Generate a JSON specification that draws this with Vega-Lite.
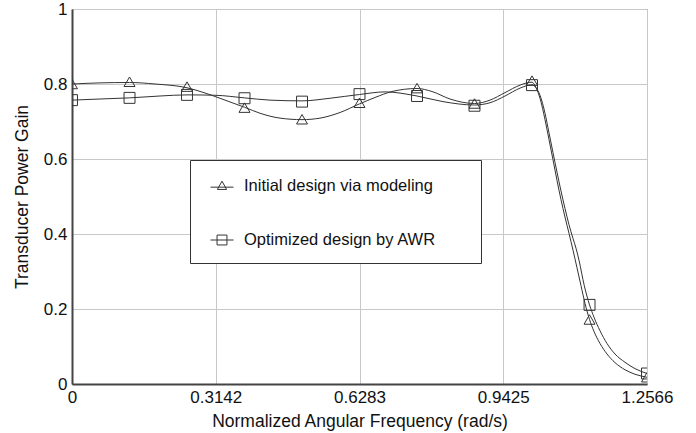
{
  "$schema": "https://vega.github.io/schema/vega-lite/v6.json",
  "width": 575,
  "height": 375,
  "autosize": "none",
  "padding": {"left": 72, "top": 9, "right": 49, "bottom": 49},
  "background": "white",
  "config": {
    "font": "Liberation Sans",
    "view": {"stroke": "#555", "strokeWidth": 1},
    "axis": {
      "labelFont": "Liberation Sans",
      "labelFontSize": 17,
      "labelColor": "#111",
      "titleFont": "Liberation Sans",
      "titleFontSize": 17.5,
      "titleFontWeight": "normal",
      "titleColor": "#111",
      "ticks": false,
      "gridColor": "#c8c8c8",
      "gridWidth": 1,
      "domainColor": "#444",
      "domainWidth": 2,
      "labelPadding": 5
    }
  },
  "datasets": {
    "curve": [
      {"series": "Initial design via modeling", "x": 0.0, "gain": 0.800},
      {"series": "Initial design via modeling", "x": 0.0612, "gain": 0.803},
      {"series": "Initial design via modeling", "x": 0.1257, "gain": 0.804},
      {"series": "Initial design via modeling", "x": 0.1814, "gain": 0.800},
      {"series": "Initial design via modeling", "x": 0.2513, "gain": 0.790},
      {"series": "Initial design via modeling", "x": 0.2907, "gain": 0.776},
      {"series": "Initial design via modeling", "x": 0.3234, "gain": 0.762},
      {"series": "Initial design via modeling", "x": 0.3770, "gain": 0.738},
      {"series": "Initial design via modeling", "x": 0.4109, "gain": 0.722},
      {"series": "Initial design via modeling", "x": 0.4546, "gain": 0.709},
      {"series": "Initial design via modeling", "x": 0.5027, "gain": 0.705},
      {"series": "Initial design via modeling", "x": 0.5420, "gain": 0.709},
      {"series": "Initial design via modeling", "x": 0.5857, "gain": 0.724},
      {"series": "Initial design via modeling", "x": 0.6283, "gain": 0.747},
      {"series": "Initial design via modeling", "x": 0.6622, "gain": 0.764},
      {"series": "Initial design via modeling", "x": 0.6993, "gain": 0.780},
      {"series": "Initial design via modeling", "x": 0.7540, "gain": 0.788},
      {"series": "Initial design via modeling", "x": 0.7867, "gain": 0.780},
      {"series": "Initial design via modeling", "x": 0.8261, "gain": 0.760},
      {"series": "Initial design via modeling", "x": 0.8796, "gain": 0.748},
      {"series": "Initial design via modeling", "x": 0.9135, "gain": 0.757},
      {"series": "Initial design via modeling", "x": 0.9463, "gain": 0.777},
      {"series": "Initial design via modeling", "x": 0.9791, "gain": 0.797},
      {"series": "Initial design via modeling", "x": 1.0053, "gain": 0.805},
      {"series": "Initial design via modeling", "x": 1.0141, "gain": 0.790},
      {"series": "Initial design via modeling", "x": 1.0228, "gain": 0.762},
      {"series": "Initial design via modeling", "x": 1.0337, "gain": 0.705},
      {"series": "Initial design via modeling", "x": 1.0424, "gain": 0.652},
      {"series": "Initial design via modeling", "x": 1.0512, "gain": 0.598},
      {"series": "Initial design via modeling", "x": 1.0599, "gain": 0.543},
      {"series": "Initial design via modeling", "x": 1.0686, "gain": 0.492},
      {"series": "Initial design via modeling", "x": 1.0774, "gain": 0.445},
      {"series": "Initial design via modeling", "x": 1.0861, "gain": 0.402},
      {"series": "Initial design via modeling", "x": 1.0949, "gain": 0.357},
      {"series": "Initial design via modeling", "x": 1.1036, "gain": 0.310},
      {"series": "Initial design via modeling", "x": 1.1124, "gain": 0.262},
      {"series": "Initial design via modeling", "x": 1.1211, "gain": 0.215},
      {"series": "Initial design via modeling", "x": 1.1310, "gain": 0.172},
      {"series": "Initial design via modeling", "x": 1.1408, "gain": 0.140},
      {"series": "Initial design via modeling", "x": 1.1539, "gain": 0.108},
      {"series": "Initial design via modeling", "x": 1.1692, "gain": 0.080},
      {"series": "Initial design via modeling", "x": 1.1867, "gain": 0.057},
      {"series": "Initial design via modeling", "x": 1.2085, "gain": 0.038},
      {"series": "Initial design via modeling", "x": 1.2304, "gain": 0.026},
      {"series": "Initial design via modeling", "x": 1.2566, "gain": 0.018},
      {"series": "Optimized design by AWR", "x": 0.0, "gain": 0.757},
      {"series": "Optimized design by AWR", "x": 0.0612, "gain": 0.760},
      {"series": "Optimized design by AWR", "x": 0.1257, "gain": 0.763},
      {"series": "Optimized design by AWR", "x": 0.1923, "gain": 0.768},
      {"series": "Optimized design by AWR", "x": 0.2513, "gain": 0.771},
      {"series": "Optimized design by AWR", "x": 0.3125, "gain": 0.770},
      {"series": "Optimized design by AWR", "x": 0.3770, "gain": 0.763},
      {"series": "Optimized design by AWR", "x": 0.4327, "gain": 0.757},
      {"series": "Optimized design by AWR", "x": 0.5027, "gain": 0.755},
      {"series": "Optimized design by AWR", "x": 0.5638, "gain": 0.762},
      {"series": "Optimized design by AWR", "x": 0.6283, "gain": 0.772},
      {"series": "Optimized design by AWR", "x": 0.6840, "gain": 0.779},
      {"series": "Optimized design by AWR", "x": 0.7540, "gain": 0.768},
      {"series": "Optimized design by AWR", "x": 0.8108, "gain": 0.753},
      {"series": "Optimized design by AWR", "x": 0.8796, "gain": 0.744},
      {"series": "Optimized design by AWR", "x": 0.9135, "gain": 0.750},
      {"series": "Optimized design by AWR", "x": 0.9463, "gain": 0.768},
      {"series": "Optimized design by AWR", "x": 0.9791, "gain": 0.789},
      {"series": "Optimized design by AWR", "x": 1.0053, "gain": 0.798},
      {"series": "Optimized design by AWR", "x": 1.0141, "gain": 0.790},
      {"series": "Optimized design by AWR", "x": 1.0228, "gain": 0.770},
      {"series": "Optimized design by AWR", "x": 1.0337, "gain": 0.722},
      {"series": "Optimized design by AWR", "x": 1.0424, "gain": 0.670},
      {"series": "Optimized design by AWR", "x": 1.0512, "gain": 0.617},
      {"series": "Optimized design by AWR", "x": 1.0599, "gain": 0.565},
      {"series": "Optimized design by AWR", "x": 1.0686, "gain": 0.515},
      {"series": "Optimized design by AWR", "x": 1.0774, "gain": 0.468},
      {"series": "Optimized design by AWR", "x": 1.0861, "gain": 0.425},
      {"series": "Optimized design by AWR", "x": 1.0949, "gain": 0.388},
      {"series": "Optimized design by AWR", "x": 1.1015, "gain": 0.362},
      {"series": "Optimized design by AWR", "x": 1.1080, "gain": 0.330},
      {"series": "Optimized design by AWR", "x": 1.1196, "gain": 0.262},
      {"series": "Optimized design by AWR", "x": 1.1310, "gain": 0.211},
      {"series": "Optimized design by AWR", "x": 1.1408, "gain": 0.178},
      {"series": "Optimized design by AWR", "x": 1.1539, "gain": 0.142},
      {"series": "Optimized design by AWR", "x": 1.1692, "gain": 0.108},
      {"series": "Optimized design by AWR", "x": 1.1867, "gain": 0.080},
      {"series": "Optimized design by AWR", "x": 1.2085, "gain": 0.058},
      {"series": "Optimized design by AWR", "x": 1.2304, "gain": 0.041},
      {"series": "Optimized design by AWR", "x": 1.2566, "gain": 0.028}
    ],
    "markers": [
      {"series": "Initial design via modeling", "x": 0.0, "gain": 0.800},
      {"series": "Initial design via modeling", "x": 0.1257, "gain": 0.806},
      {"series": "Initial design via modeling", "x": 0.2513, "gain": 0.793},
      {"series": "Initial design via modeling", "x": 0.3770, "gain": 0.737},
      {"series": "Initial design via modeling", "x": 0.5027, "gain": 0.706},
      {"series": "Initial design via modeling", "x": 0.6283, "gain": 0.750},
      {"series": "Initial design via modeling", "x": 0.7540, "gain": 0.789},
      {"series": "Initial design via modeling", "x": 0.8796, "gain": 0.748},
      {"series": "Initial design via modeling", "x": 1.0053, "gain": 0.809},
      {"series": "Initial design via modeling", "x": 1.1310, "gain": 0.172},
      {"series": "Initial design via modeling", "x": 1.2566, "gain": 0.018},
      {"series": "Optimized design by AWR", "x": 0.0, "gain": 0.757},
      {"series": "Optimized design by AWR", "x": 0.1257, "gain": 0.763},
      {"series": "Optimized design by AWR", "x": 0.2513, "gain": 0.771},
      {"series": "Optimized design by AWR", "x": 0.3770, "gain": 0.762},
      {"series": "Optimized design by AWR", "x": 0.5027, "gain": 0.753},
      {"series": "Optimized design by AWR", "x": 0.6283, "gain": 0.773},
      {"series": "Optimized design by AWR", "x": 0.7540, "gain": 0.768},
      {"series": "Optimized design by AWR", "x": 0.8796, "gain": 0.742},
      {"series": "Optimized design by AWR", "x": 1.0053, "gain": 0.797},
      {"series": "Optimized design by AWR", "x": 1.1310, "gain": 0.211},
      {"series": "Optimized design by AWR", "x": 1.2566, "gain": 0.028}
    ]
  },
  "encoding": {
    "x": {
      "field": "x",
      "type": "quantitative",
      "scale": {"domain": [0, 1.2566], "nice": false, "zero": false},
      "axis": {
        "values": [0, 0.3142, 0.6283, 0.9425, 1.2566],
        "format": ".4~f",
        "title": "Normalized Angular Frequency (rad/s)",
        "labelFlush": false,
        "titlePadding": 7
      }
    },
    "y": {
      "field": "gain",
      "type": "quantitative",
      "scale": {"domain": [0, 1], "nice": false},
      "axis": {
        "values": [0, 0.2, 0.4, 0.6, 0.8, 1],
        "format": "~g",
        "title": "Transducer Power Gain",
        "labelFlush": false,
        "titlePadding": 12
      }
    }
  },
  "layer": [
    {
      "data": {"name": "curve"},
      "mark": {"type": "line", "interpolate": "monotone", "color": "#333", "strokeWidth": 1, "clip": true},
      "encoding": {"detail": {"field": "series", "type": "nominal"}}
    },
    {
      "data": {"name": "markers"},
      "mark": {"type": "point", "filled": false, "color": "#333", "strokeWidth": 1, "size": 120, "opacity": 1, "clip": true},
      "encoding": {
        "shape": {
          "field": "series",
          "type": "nominal",
          "scale": {"domain": ["Initial design via modeling", "Optimized design by AWR"], "range": ["triangle-up", "square"]},
          "legend": null
        }
      }
    },
    {
      "data": {"name": "markers"},
      "transform": [{"filter": "false"}],
      "mark": {"type": "point", "filled": false, "color": "#333", "strokeWidth": 1, "size": 529, "opacity": 1},
      "encoding": {
        "shape": {
          "field": "series",
          "type": "nominal",
          "scale": {
            "domain": ["Initial design via modeling", "Optimized design by AWR"],
            "range": ["M-1,0.1H1M0,-0.42L0.4,0.3L-0.4,0.3Z", "M-1,0H1M-0.43,-0.43H0.43V0.43H-0.43Z"]
          },
          "legend": {
            "title": "\u00a0",
            "titleOrient": "right",
            "titlePadding": 31,
            "titleFontSize": 4,
            "orient": "none",
            "legendX": 118,
            "legendY": 151,
            "padding": 14,
            "fillColor": "white",
            "strokeColor": "#333",
            "labelFont": "Liberation Sans",
            "labelFontSize": 16.5,
            "labelColor": "#111",
            "labelOffset": 10,
            "symbolOffset": 6,
            "rowPadding": 33,
            "symbolSize": 529,
            "symbolStrokeWidth": 1,
            "symbolStrokeColor": "#333",
            "symbolFillColor": "transparent",
            "labelLimit": 400
          }
        }
      }
    }
  ],
  "resolve": {"scale": {"shape": "independent"}, "legend": {"shape": "independent"}}
}
